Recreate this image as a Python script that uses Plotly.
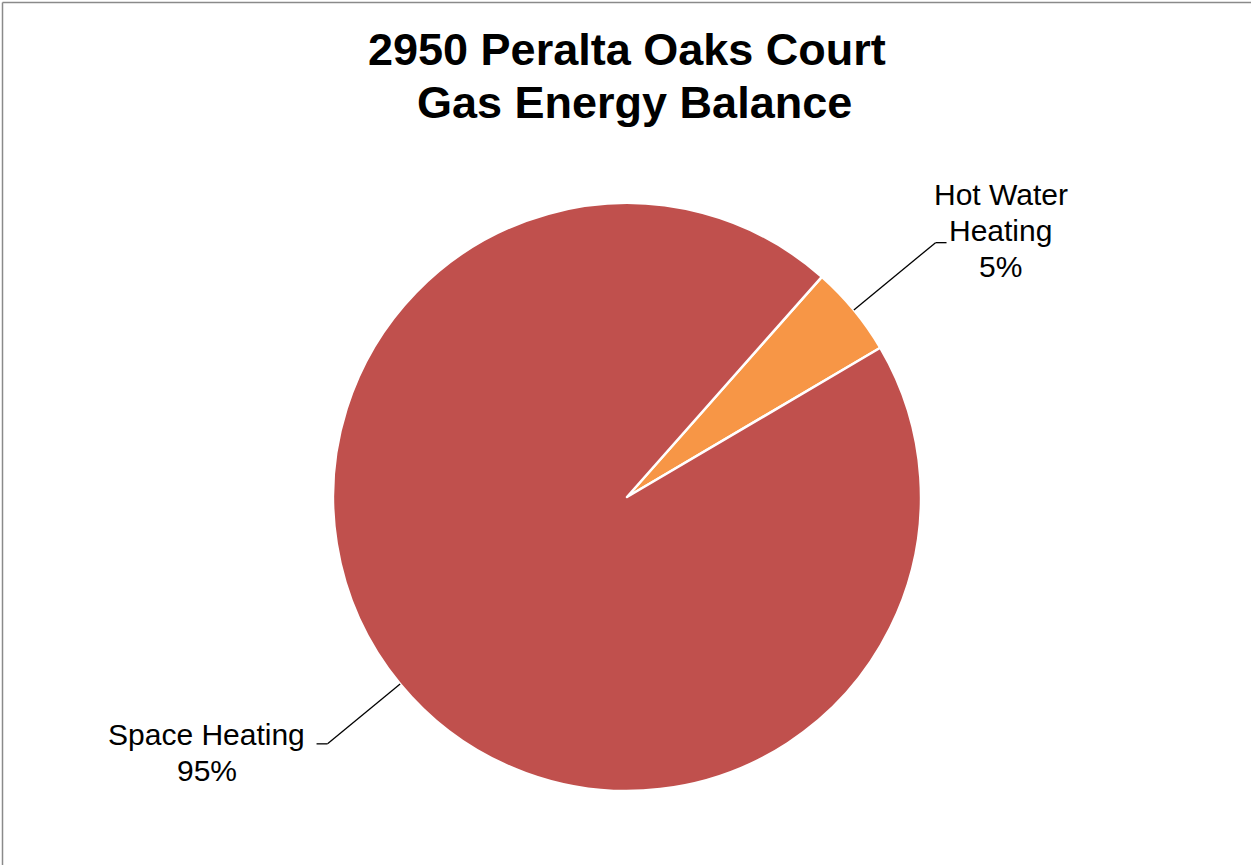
import math
import plotly.graph_objects as go

# Gas end uses for the building
categories = ["Hot Water Heating", "Space Heating"]
shares = [5, 95]
colors = ["#F79646", "#C0504D"]
label_lines = [["Hot Water", "Heating"], ["Space Heating"]]

W, H = 1251, 865
CX, CY, R = 627, 497, 294          # pie centre and radius in pixels
START_ANGLE = 41.5                 # first slice starts here (deg clockwise from 12 o'clock)
LEADER_REACH = [1.36, 1.32]        # elbow distance from centre, in radii

FONT = "Liberation Sans, Arial, sans-serif"
LABEL_SIZE = 30
LINE_GAP = 36


def px(x):
    return x / W


def py(y):
    return 1 - y / H


fig = go.Figure(
    go.Pie(
        labels=categories,
        values=shares,
        sort=False,
        direction="clockwise",
        rotation=START_ANGLE,
        marker=dict(colors=colors, line=dict(color="white", width=2.5)),
        textinfo="none",
        hoverinfo="label+percent",
        showlegend=False,
        domain=dict(x=[px(CX - R), px(CX + R)], y=[py(CY + R), py(CY - R)]),
    )
)

# Leader lines and labels, placed from each slice's mid angle
total = sum(shares)
shapes = []
annotations = []
acc = 0
for i, v in enumerate(shares):
    mid = START_ANGLE + (acc + v / 2) / total * 360
    acc += v
    a = math.radians(mid)
    reach = LEADER_REACH[i] * R
    sx, sy = CX + R * math.sin(a), CY - R * math.cos(a)
    ex, ey = CX + reach * math.sin(a), CY - reach * math.cos(a)
    right = math.sin(a) > 0
    hx = ex + (11 if right else -11)
    line = dict(color="black", width=1.3)
    shapes.append(dict(type="line", xref="paper", yref="paper",
                       x0=px(sx), y0=py(sy), x1=px(ex), y1=py(ey), line=line))
    shapes.append(dict(type="line", xref="paper", yref="paper",
                       x0=px(ex), y0=py(ey), x1=px(hx), y1=py(ey), line=line))
    lines = label_lines[i] + [f"{v / total:.0%}"]
    if right:
        tx, ty0 = hx + 54, ey - 48
    else:
        tx, ty0 = hx - 110, ey - 9
    for k, txt in enumerate(lines):
        annotations.append(dict(
            x=px(tx), y=py(ty0 + k * LINE_GAP), xref="paper", yref="paper",
            text=txt, showarrow=False,
            xanchor="center", yanchor="middle", align="center",
            font=dict(family=FONT, size=LABEL_SIZE, color="black"),
        ))

# Title lines
annotations.append(dict(x=px(627), y=py(50), xref="paper", yref="paper",
                        text="<b>2950 Peralta Oaks Court</b>", showarrow=False,
                        xanchor="center", yanchor="middle",
                        font=dict(family=FONT, size=45, color="black")))
annotations.append(dict(x=px(634), y=py(102), xref="paper", yref="paper",
                        text="<b>Gas Energy Balance</b>", showarrow=False,
                        xanchor="center", yanchor="middle",
                        font=dict(family=FONT, size=45, color="black")))

# Chart frame (top and left edges)
frame = dict(color="#8a8a8a", width=1.5)
shapes.append(dict(type="line", xref="paper", yref="paper",
                   x0=px(2.5), y0=py(2.5), x1=1, y1=py(2.5), line=frame))
shapes.append(dict(type="line", xref="paper", yref="paper",
                   x0=px(2.5), y0=py(2.5), x1=px(2.5), y1=0, line=frame))

fig.update_layout(
    width=W, height=H,
    margin=dict(l=0, r=0, t=0, b=0),
    paper_bgcolor="white",
    plot_bgcolor="white",
    shapes=shapes,
    annotations=annotations,
)

fig.write_html("out.html")
